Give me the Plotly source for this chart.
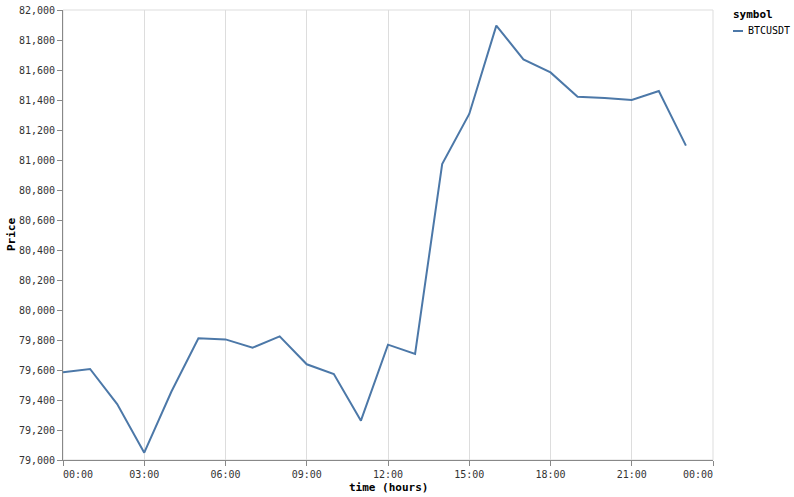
import pandas as pd
import plotly.graph_objects as go

symbol = "BTCUSDT"
hours = list(range(24))
prices = [79585, 79607, 79373, 79049, 79455, 79811, 79804, 79749, 79824, 79638,
          79573, 79262, 79769, 79707, 80973, 81307, 81896, 81671, 81584, 81422,
          81413, 81400, 81460, 81096]
tick_hours = [0, 3, 6, 9, 12, 15, 18, 21, 24]
tick_labels = ["00:00", "03:00", "06:00", "09:00", "12:00", "15:00", "18:00", "21:00", "00:00"]
base_day = pd.Timestamp("2025-04-10")
times = [base_day + pd.Timedelta(hours=h) for h in hours]
y_range = [79000, 82000]
x_range = [base_day, base_day + pd.Timedelta(hours=24)]

W, H = 794, 497
L, R, T, B = 63, 81, 10, 37
FONT = "DejaVu Sans Mono"
LINE_COLOR = "#4c78a8"
NB = "\u00a0"

# flush first/last x labels to the plot edges (as the reference does)
tick_text = list(tick_labels)
tick_text[0] = NB * 5 + tick_text[0]
tick_text[-1] = tick_text[-1] + NB * 5
tick_vals = [base_day + pd.Timedelta(hours=h) for h in tick_hours]

fig = go.Figure()
fig.add_trace(go.Scatter(x=times, y=prices, mode="lines", name=symbol,
                         line=dict(color=LINE_COLOR, width=2), showlegend=False,
                         hoverinfo="skip"))

pw, ph = W - L - R, H - T - B
def px(x):
    return (x - L) / pw
def py(y):
    return 1 - (y - T) / ph

fig.update_layout(
    width=W, height=H,
    margin=dict(l=L, r=R, t=T, b=B, autoexpand=False),
    paper_bgcolor="white", plot_bgcolor="white",
    font=dict(family=FONT, size=10, color="#333"),
    xaxis=dict(range=x_range, type="date", tickmode="array", tickvals=tick_vals,
               ticktext=tick_text,
               showgrid=True, gridcolor="#ddd", gridwidth=1, automargin=False,
               showline=True, linecolor="#888", linewidth=1,
               ticks="outside", ticklen=5, tickcolor="#888",
               zeroline=False, tickfont=dict(family=FONT, size=10, color="#333")),
    yaxis=dict(range=y_range, dtick=200, tickformat=",", automargin=False,
               showgrid=False, showline=True, linecolor="#888", linewidth=1,
               ticks="outside", ticklen=5, tickcolor="#888",
               zeroline=False, tickfont=dict(family=FONT, size=10, color="#333")),
    shapes=[dict(type="rect", xref="paper", yref="paper", x0=0, x1=1, y0=0, y1=1,
                 line=dict(color="#ddd", width=1), layer="below"),
            dict(type="line", xref="paper", yref="paper",
                 x0=px(733), x1=px(743), y0=py(31), y1=py(31),
                 line=dict(color=LINE_COLOR, width=2))],
)

fig.add_annotation(text="<b>time (hours)</b>", xref="paper", yref="paper",
                   x=px(388), y=py(487), showarrow=False,
                   font=dict(family=FONT, size=11, color="#000"),
                   xanchor="center", yanchor="middle")
fig.add_annotation(text="<b>Price</b>", xref="paper", yref="paper",
                   x=px(11), y=py(235), showarrow=False, textangle=-90,
                   font=dict(family=FONT, size=11, color="#000"),
                   xanchor="center", yanchor="middle")
fig.add_annotation(text="<b>symbol</b>", xref="paper", yref="paper",
                   x=px(731), y=py(15), showarrow=False,
                   font=dict(family=FONT, size=11, color="#000"),
                   xanchor="left", yanchor="middle")
fig.add_annotation(text=symbol, xref="paper", yref="paper",
                   x=px(746), y=py(31), showarrow=False,
                   font=dict(family=FONT, size=10, color="#000"),
                   xanchor="left", yanchor="middle")

fig.write_html("out.html", config={"displayModeBar": False},
               post_script="document.body.style.margin='0';document.body.style.padding='0';")
